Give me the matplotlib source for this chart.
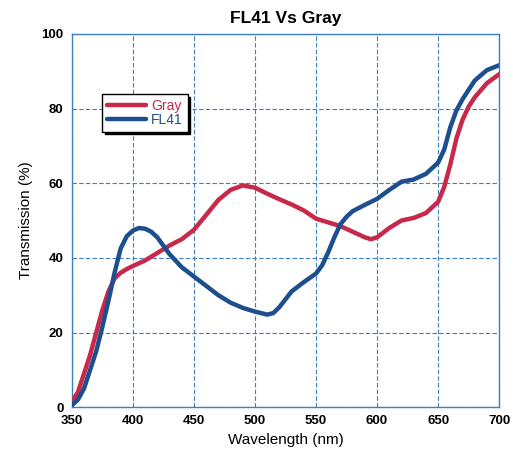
import numpy as np
from matplotlib import pyplot as plt

plt.rcParams['font.family'] = ['Liberation Sans', 'DejaVu Sans']

# Gray lens transmission
gray_nm = [350, 355, 360, 365, 370, 375, 380, 385, 390, 395, 400, 410, 420, 430, 440,
           450, 460, 470, 480, 490, 500, 510, 520, 530, 540, 550, 560, 570, 580, 590,
           595, 600, 610, 620, 630, 640, 650, 655, 660, 665, 670, 675, 680, 690, 700]
gray_t = [1.5, 4, 9, 14, 20, 26, 31, 34.5, 36, 37, 37.8, 39.3, 41.3, 43.3, 45,
          47.5, 51.5, 55.5, 58.2, 59.4, 58.8, 57.2, 55.7, 54.3, 52.7, 50.5, 49.5, 48.5, 47, 45.5,
          45, 45.5, 48, 50, 50.7, 52, 55, 59, 65, 72, 77, 80.5, 83, 86.8, 89.2]

# FL41 lens transmission
fl41_nm = [350, 355, 360, 365, 370, 375, 380, 385, 390, 395, 400, 405, 410, 415, 420,
           430, 440, 450, 460, 470, 480, 490, 500, 510, 515, 520, 530, 540, 550, 555,
           560, 565, 570, 575, 580, 590, 600, 610, 620, 630, 640, 650, 655, 660, 665,
           670, 680, 690, 700]
fl41_t = [0.5, 2, 5, 10, 15, 21.5, 28.5, 36, 42.5, 45.8, 47.3, 48, 47.8, 47, 45.5,
          41, 37.5, 35, 32.5, 30, 28, 26.6, 25.6, 24.8, 25.2, 26.8, 31, 33.5, 35.8, 38,
          41.5, 45.5, 49, 51, 52.5, 54.2, 55.8, 58.2, 60.4, 61, 62.5, 65.5, 69, 75, 79.5,
          82.5, 87.5, 90.3, 91.6]

x_ticks = [350, 400, 450, 500, 550, 600, 650, 700]
y_ticks = [0, 20, 40, 60, 80, 100]

red = "#c8284a"
blue = "#1d4f8f"
grid_col = "#3f7fbf"

fig = plt.figure(figsize=(5.13, 4.58), dpi=100)
ax = fig.add_axes([0.140, 0.111, 0.833, 0.815])

ax.plot(gray_nm, gray_t, color=red, lw=3.2, label="Gray", solid_capstyle="round", zorder=3)
ax.plot(fl41_nm, fl41_t, color=blue, lw=3.2, label="FL41", solid_capstyle="round", zorder=4)

ax.set_xlim(350, 700)
ax.set_ylim(0, 100)
ax.set_xticks(x_ticks)
ax.set_yticks(y_ticks)
ax.tick_params(length=0, labelsize=9.5, pad=6)
for lab in ax.get_xticklabels() + ax.get_yticklabels():
    lab.set_fontweight("bold")
ax.grid(True, color=grid_col, linestyle=(0, (4, 2)), lw=0.8)
for s in ax.spines.values():
    s.set_color(grid_col)
    s.set_linewidth(1.0)

ax.set_title("FL41 Vs Gray", fontsize=12.5, fontweight="bold", pad=8)
ax.set_xlabel("Wavelength (nm)", fontsize=11, labelpad=4)
ax.set_ylabel("Transmission (%)", fontsize=11, labelpad=6)

leg = ax.legend(loc="upper left", bbox_to_anchor=(0.054, 0.858), fontsize=10,
                labelcolor="linecolor", handlelength=2.8, handletextpad=0.4,
                borderpad=0.35, labelspacing=0.0, fancybox=False, framealpha=1,
                edgecolor="black", shadow={"color": "black", "alpha": 1})
leg.get_frame().set_linewidth(1.0)

plt.savefig("out.png", dpi=100)
